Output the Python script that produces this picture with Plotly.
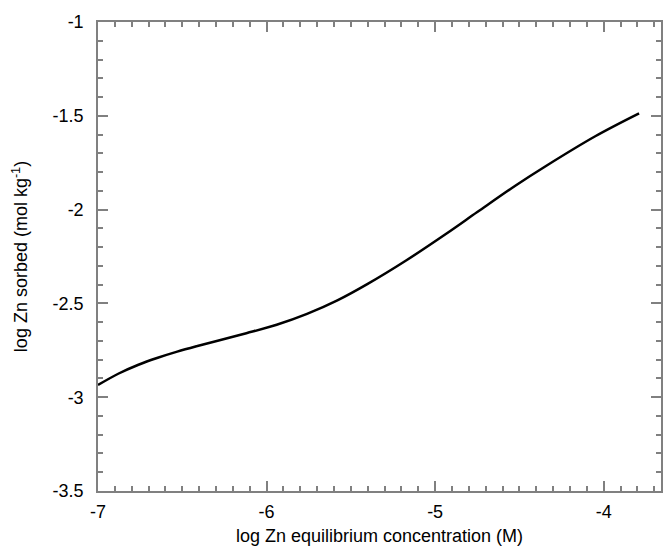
import plotly.graph_objects as go

log_conc = [-7.0, -6.88, -6.76, -6.65, -6.53, -6.41, -6.29, -6.12, -5.94, -5.76,
            -5.58, -5.40, -5.17, -4.93, -4.75, -4.52, -4.34, -4.05, -3.79]
log_sorbed = [-2.935, -2.875, -2.827, -2.791, -2.757, -2.727, -2.699, -2.659, -2.614, -2.556,
              -2.484, -2.396, -2.270, -2.126, -2.013, -1.870, -1.766, -1.609, -1.487]

x_tickvals = [-7, -6, -5, -4]
x_ticktext = ["-7", "-6", "-5", "-4"]
y_tickvals = [-3.5, -3, -2.5, -2, -1.5, -1]
y_ticktext = ["-3.5", "-3", "-2.5", "-2", "-1.5", "-1"]

x_range = [-7, -3.66]
y_range = [-3.5, -1]
axis_grey = "#808080"

fig = go.Figure()
fig.add_trace(go.Scatter(x=log_conc, y=log_sorbed, mode="lines",
                         line=dict(color="black", width=2.5, shape="spline", smoothing=1),
                         showlegend=False, hoverinfo="skip"))

axis_common = dict(
    showline=True, linecolor=axis_grey, linewidth=1.5, mirror="ticks",
    ticks="inside", ticklen=10, tickwidth=1.5, tickcolor=axis_grey,
    showgrid=False, zeroline=False,
    tickfont=dict(family="Liberation Sans, Arial", size=18, color="black"),
)
minor_ticks = dict(ticks="inside", ticklen=5, tickwidth=1.5, tickcolor=axis_grey, dtick=0.1, showgrid=False)

fig.update_layout(
    width=663, height=558,
    margin=dict(l=98, r=0, t=22, b=67),
    paper_bgcolor="white", plot_bgcolor="white",
    font=dict(family="Liberation Sans, Arial", size=18, color="black"),
    xaxis=dict(axis_common, range=x_range, tickvals=x_tickvals, ticktext=x_ticktext,
               ticklabelstandoff=4, minor=minor_ticks,
               title=dict(text="log Zn equilibrium concentration (M)", font=dict(size=18), standoff=8)),
    yaxis=dict(axis_common, range=y_range, tickvals=y_tickvals, ticktext=y_ticktext,
               ticklabelstandoff=9, minor=minor_ticks,
               title=dict(text="log Zn sorbed (mol kg<sup>-1</sup>)", font=dict(size=18), standoff=20)),
)

fig.write_html("out.html")
